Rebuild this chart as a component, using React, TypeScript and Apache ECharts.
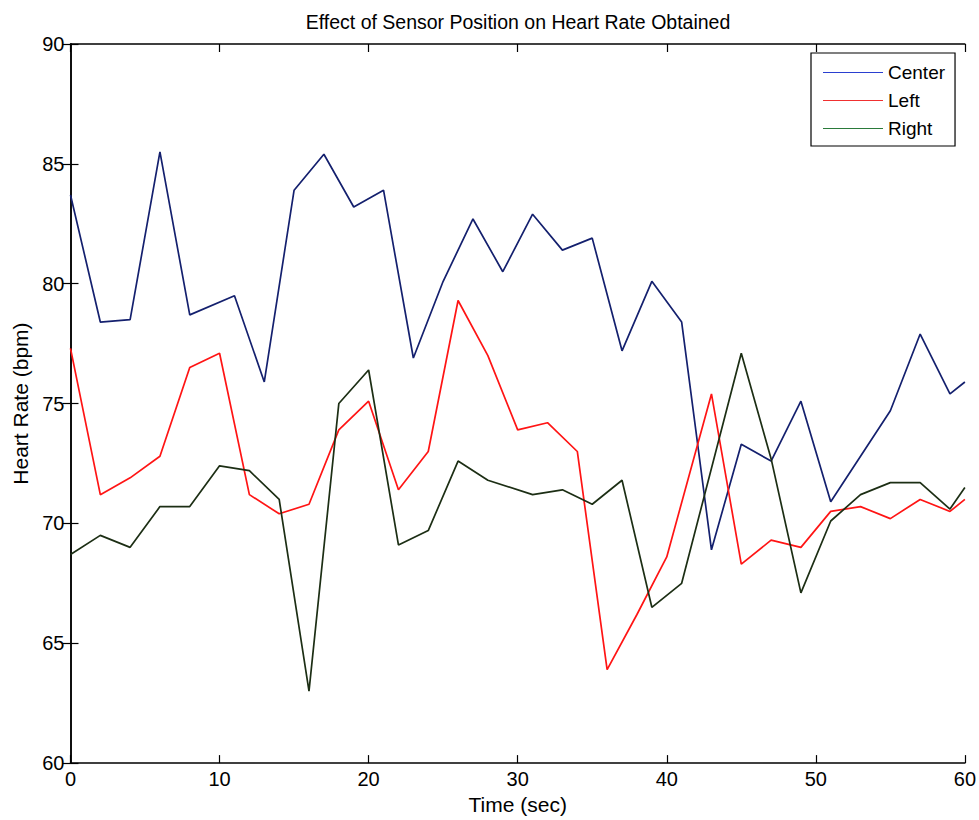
import React, { useEffect, useRef } from "react";
import * as echarts from "echarts";

const centerData: [number, number][] = [
  [0, 83.7], [2, 78.4], [4, 78.5], [6, 85.5], [8, 78.7], [11, 79.5], [13, 75.9],
  [15, 83.9], [17, 85.4], [19, 83.2], [21, 83.9], [23, 76.9], [25, 80.1], [27, 82.7],
  [29, 80.5], [31, 82.9], [33, 81.4], [35, 81.9], [37, 77.2], [39, 80.1], [41, 78.4],
  [43, 68.9], [45, 73.3], [47, 72.6], [49, 75.1], [51, 70.9], [55, 74.7], [57, 77.9],
  [59, 75.4], [60, 75.9],
];

const leftData: [number, number][] = [
  [0, 77.3], [2, 71.2], [4, 71.9], [6, 72.8], [8, 76.5], [10, 77.1], [12, 71.2],
  [14, 70.4], [16, 70.8], [18, 73.9], [20, 75.1], [22, 71.4], [24, 73.0], [26, 79.3],
  [28, 77.0], [30, 73.9], [32, 74.2], [34, 73.0], [36, 63.9], [38, 66.2], [40, 68.6],
  [43, 75.4], [45, 68.3], [47, 69.3], [49, 69.0], [51, 70.5], [53, 70.7], [55, 70.2],
  [57, 71.0], [59, 70.5], [60, 71.0],
];

const rightData: [number, number][] = [
  [0, 68.7], [2, 69.5], [4, 69.0], [6, 70.7], [8, 70.7], [10, 72.4], [12, 72.2],
  [14, 71.0], [16, 63.0], [18, 75.0], [20, 76.4], [22, 69.1], [24, 69.7], [26, 72.6],
  [28, 71.8], [31, 71.2], [33, 71.4], [35, 70.8], [37, 71.8], [39, 66.5], [41, 67.5],
  [45, 77.1], [47, 72.7], [49, 67.1], [51, 70.1], [53, 71.2], [55, 71.7], [57, 71.7],
  [59, 70.6], [60, 71.5],
];

const seriesNames = ["Center", "Left", "Right"];
const seriesColors = ["#14206e", "#ff1414", "#1c2e14"];
const legendColors = ["#2a3fd0", "#f03030", "#2a7a3a"];

const FONT = "'Liberation Sans', Arial, sans-serif";

export default function App() {
  const ref = useRef<HTMLDivElement>(null);
  useEffect(() => {
    if (!ref.current) return;
    const chart = echarts.init(ref.current, null, { renderer: "svg" });
    const datasets = [centerData, leftData, rightData];
    const axisCommon = {
      type: "value" as const,
      axisLine: { show: true, lineStyle: { color: "#000", width: 1.5 } },
      axisTick: { show: true, inside: true, length: 8, lineStyle: { color: "#000", width: 1.2 } },
      splitLine: { show: false },
    };
    chart.setOption({
      animation: false,
      backgroundColor: "#ffffff",
      title: {
        text: "Effect of Sensor Position on Heart Rate Obtained",
        left: 513,
        textAlign: "center",
        top: 7,
        textStyle: { fontFamily: FONT, fontSize: 19.5, fontWeight: "normal", color: "#000" },
      },
      legend: {
        data: seriesNames.map((n, i) => ({
          name: n,
          icon: "path://M0 0H60V1H0Z",
          itemStyle: { color: legendColors[i] },
        })),
        orient: "vertical",
        left: 811,
        top: 53,
        padding: [10, 10, 8, 12],
        itemWidth: 60,
        itemHeight: 14,
        itemGap: 9,
        backgroundColor: "#fff",
        borderColor: "#000",
        borderWidth: 1.2,
        borderRadius: 0,
        textStyle: { fontFamily: FONT, fontSize: 19, color: "#000" },
      },
      grid: { left: 70.5, right: 13.5, top: 44, bottom: 53, containLabel: false },
      xAxis: [
        {
          ...axisCommon,
          min: 0,
          max: 60,
          interval: 10,
          position: "bottom",
          name: "Time (sec)",
          nameLocation: "middle",
          nameGap: 30,
          nameTextStyle: { fontFamily: FONT, fontSize: 21, color: "#000" },
          axisLabel: { fontFamily: FONT, fontSize: 20, color: "#000", margin: 6 },
        },
        {
          ...axisCommon,
          min: 0,
          max: 60,
          interval: 10,
          position: "top",
          axisLabel: { show: false },
        },
      ],
      yAxis: [
        {
          ...axisCommon,
          min: 60,
          max: 90,
          interval: 5,
          position: "left",
          name: "Heart Rate (bpm)",
          nameLocation: "middle",
          nameGap: 40,
          nameTextStyle: { fontFamily: FONT, fontSize: 21, color: "#000" },
          axisLabel: { fontFamily: FONT, fontSize: 20, color: "#000", margin: 6 },
        },
        {
          ...axisCommon,
          min: 60,
          max: 90,
          interval: 5,
          position: "right",
          axisLabel: { show: false },
        },
      ],
      series: datasets.map((d, i) => ({
        name: seriesNames[i],
        type: "line",
        data: d,
        symbol: "none",
        xAxisIndex: 0,
        yAxisIndex: 0,
        lineStyle: { color: seriesColors[i], width: 1.7 },
        itemStyle: { color: seriesColors[i] },
      })),
    });
    return () => chart.dispose();
  }, []);
  return (
    <div
      ref={ref}
      style={{ position: "fixed", left: 0, top: 0, width: 979, height: 820 }}
    />
  );
}
